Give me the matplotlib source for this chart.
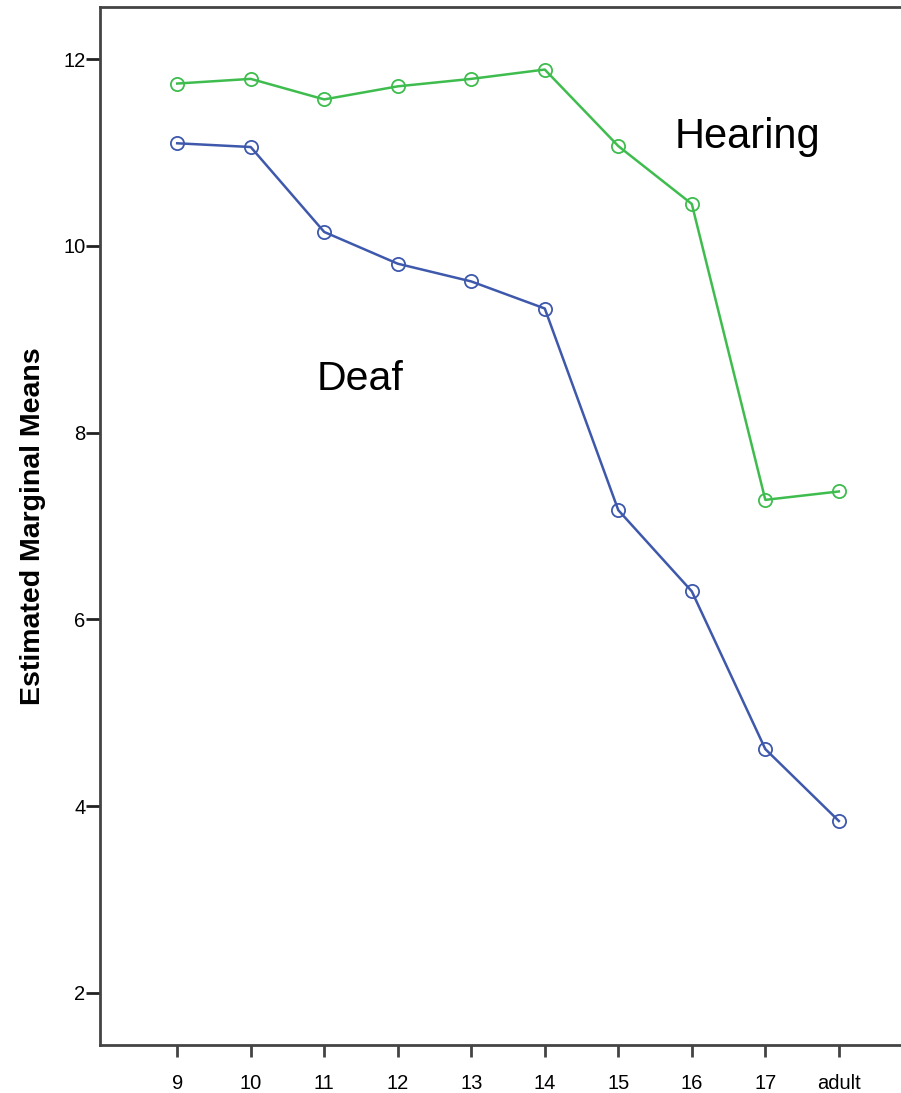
import numpy as np
import matplotlib.pyplot as plt

plt.rcParams['font.family'] = ['Liberation Sans', 'DejaVu Sans']

# ages / groups
ages = ['9', '10', '11', '12', '13', '14', '15', '16', '17', 'adult']
hearing = [11.74, 11.79, 11.57, 11.71, 11.79, 11.89, 11.07, 10.45, 7.28, 7.37]
deaf = [11.10, 11.06, 10.15, 9.81, 9.62, 9.33, 7.17, 6.30, 4.61, 3.84]
yticks = [2, 4, 6, 8, 10, 12]

blue = '#3e58ac'
green = '#3ebd4e'

fig = plt.figure(figsize=(9.01, 10.93), dpi=100)
# axes box runs off the right edge like the cropped original
ax = fig.add_axes([100 / 901, 48 / 1093, 830 / 901, 1038 / 1093])

x = np.arange(len(ages))
ax.plot(x, hearing, color=green, lw=1.8, marker='o', ms=9.5, mfc='none', mew=1.3)
ax.plot(x, deaf, color=blue, lw=1.8, marker='o', ms=9.5, mfc='none', mew=1.3)

ax.set_xlim(-1.05, 10.24)
ax.set_ylim(1.44, 12.56)
ax.set_xticks(x)
ax.set_xticklabels(ages)
ax.set_yticks(yticks)
ax.tick_params(axis='x', length=8.5, width=2, color='#444444', labelsize=14.5, pad=12.5)
ax.tick_params(axis='y', length=10, width=2, color='#222222', labelsize=14.5, pad=0.5)

for s in ax.spines.values():
    s.set_linewidth(2)
    s.set_color('#444444')

ax.set_ylabel('Estimated Marginal Means', fontsize=20.5, fontweight='bold', labelpad=12)

ax.text(6.76, 11.165, 'Hearing', fontsize=30, va='center', ha='left')
ax.text(1.89, 8.58, 'Deaf', fontsize=29.5, va='center', ha='left')

fig.savefig('out.png', dpi=100)
